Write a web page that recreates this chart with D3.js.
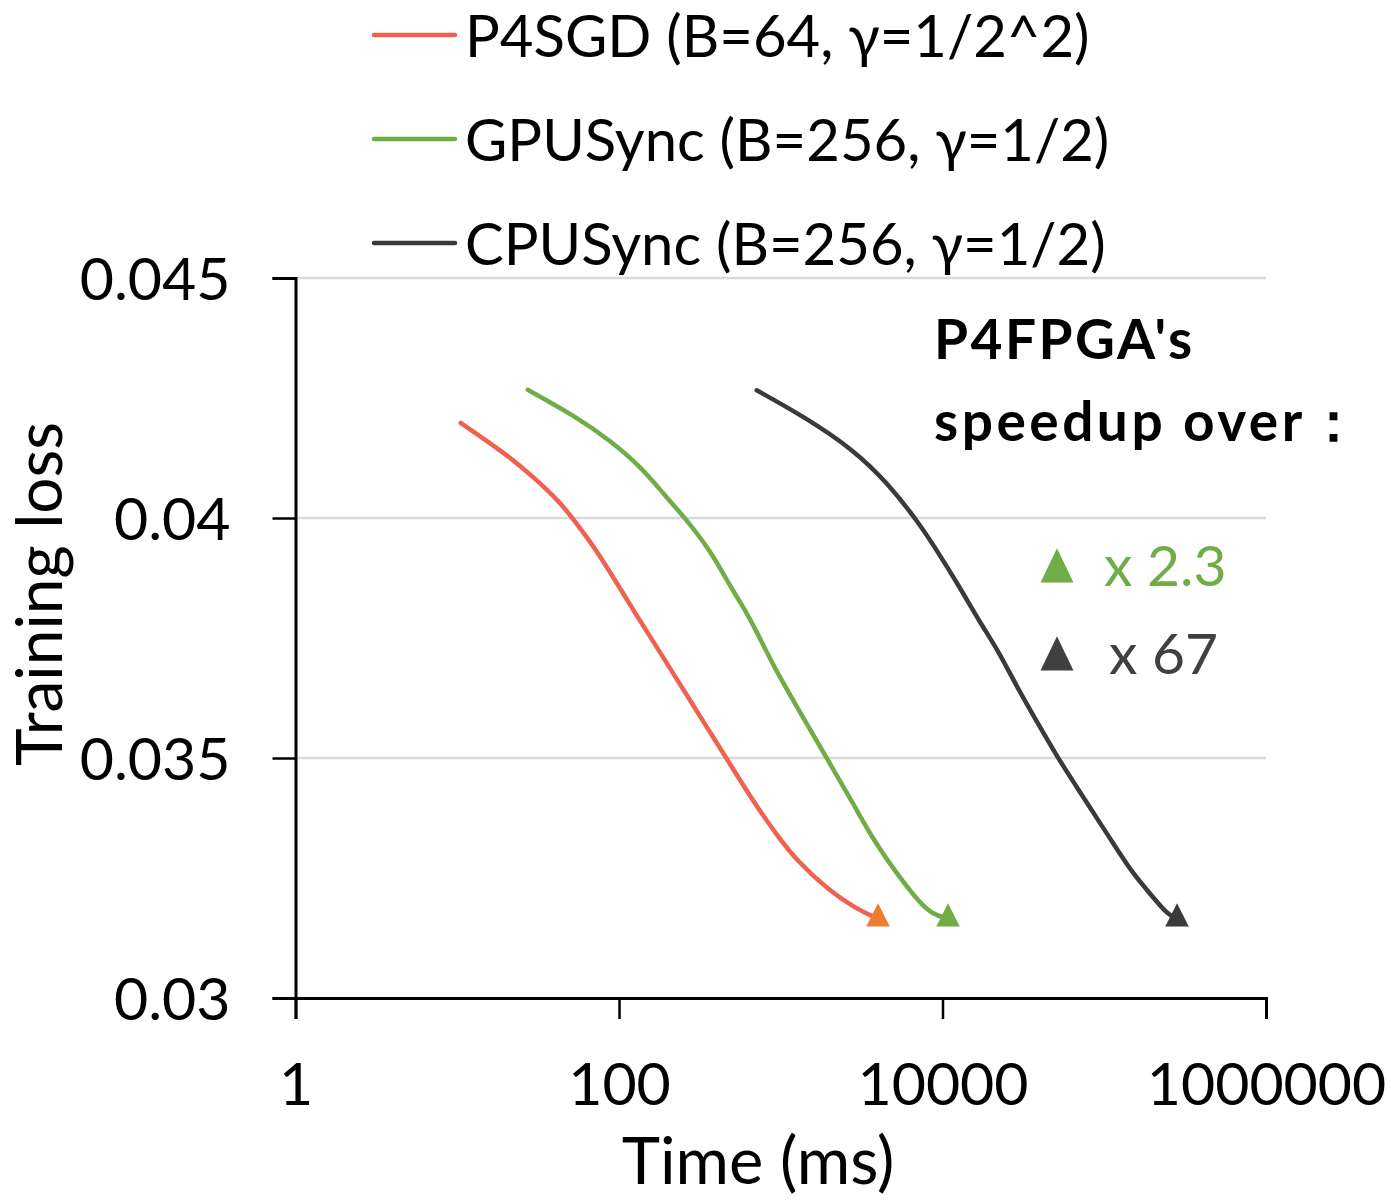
<!DOCTYPE html>
<html>
<head>
<meta charset="utf-8">
<script src="https://cdn.jsdelivr.net/npm/d3@7"></script>
<style>
  body { margin: 0; background: #fff; }
  svg { display: block; font-family: Lato, "Open Sans", sans-serif; }
  .grid line { stroke: #d9d9d9; stroke-width: 2.5; }
</style>
</head>
<body>
<svg id="chart" width="1391" height="1200"></svg>
<script>
// values (time in ms, training loss)
var p4sgdTime = [10.5, 20.5, 30.1, 42.6, 53.2, 68.6, 100.5, 129, 167, 202, 278, 336, 434, 493, 676, 929, 1277, 1989, 2916, 3996];
var p4sgdLoss = [0.04198, 0.04131, 0.04083, 0.04035, 0.03994, 0.03945, 0.03856, 0.03796, 0.03737, 0.03692, 0.03618, 0.03573, 0.03514, 0.03484, 0.0341, 0.03343, 0.03283, 0.03224, 0.03186, 0.03165];

var gpuTime = [27.3, 53.2, 88.6, 138, 190, 261, 370, 477, 596, 721, 900, 1277, 1930, 2916, 3763, 5169, 7100, 8590, 10820];
var gpuLoss = [0.04267, 0.04213, 0.04161, 0.04105, 0.04049, 0.03997, 0.0393, 0.03863, 0.03811, 0.03759, 0.03692, 0.03603, 0.03499, 0.03395, 0.03328, 0.03261, 0.03201, 0.03175, 0.03165];

var cpuTime = [710, 1379, 2802, 4573, 7069, 9290, 12870, 16920, 22200, 29140, 38300, 50250, 65960, 86700, 113800, 149500, 196300, 244000, 281800];
var cpuLoss = [0.04266, 0.04212, 0.04143, 0.04073, 0.03992, 0.03931, 0.03854, 0.03784, 0.03723, 0.03645, 0.03576, 0.03507, 0.03445, 0.03383, 0.03322, 0.0326, 0.03214, 0.03175, 0.03165];

var seriesNames = ["P4SGD (B=64, \u03b3=1/2^2)", "GPUSync (B=256, \u03b3=1/2)", "CPUSync (B=256, \u03b3=1/2)"];
var lineColors = ["#ef6150", "#70ad47", "#3a3a3a"];
var markerColors = ["#ed7d31", "#70ad47", "#3a3a3a"];

var xTicks = [1, 100, 10000, 1000000];
var yTicks = [0.03, 0.035, 0.04, 0.045];

var speedupLabels = ["x 2.3", "x 67"];
var speedupColors = ["#70ad47", "#404040"];

var series = [
	{ time: p4sgdTime, loss: p4sgdLoss },
	{ time: gpuTime, loss: gpuLoss },
	{ time: cpuTime, loss: cpuLoss }
];

var svg = d3.select("#chart");

var x = d3.scaleLog().domain([1, 1000000]).range([295.5, 1266]);
var y = d3.scaleLinear().domain([0.03, 0.045]).range([998, 278]);

// gridlines
svg.append("g").attr("class", "grid")
	.selectAll("line")
	.data(yTicks.slice(1))
	.join("line")
	.attr("x1", x(1)).attr("x2", x(1000000))
	.attr("y1", function(d) { return y(d); })
	.attr("y2", function(d) { return y(d); });

// y axis
var yAxis = svg.append("g")
	.attr("transform", "translate(" + x(1) + ",0)")
	.call(d3.axisLeft(y).tickValues(yTicks).tickSize(23).tickPadding(42)
		.tickFormat(function(d) { return String(+d.toFixed(3)); }));

// x axis
var xAxis = svg.append("g")
	.attr("transform", "translate(0," + y(0.03) + ")")
	.call(d3.axisBottom(x).tickValues(xTicks).tickSize(21).tickPadding(56)
		.tickFormat(d3.format("d")));

[yAxis, xAxis].forEach(function(ax) {
	ax.select(".domain").attr("stroke", "#000").attr("stroke-width", 3);
	ax.selectAll(".tick line").attr("stroke", "#000").attr("stroke-width", 2.5);
	ax.selectAll(".tick text")
		.attr("fill", "#000")
		.style("font-size", "59px")
		.style("font-family", "Lato, sans-serif");
});
yAxis.selectAll(".tick text").attr("dy", "0.36em");
xAxis.selectAll(".tick text").attr("dy", "0.5em");

// axis titles
svg.append("text")
	.attr("transform", "translate(62,594) rotate(-90)")
	.attr("text-anchor", "middle")
	.style("font-size", "64px")
	.text("Training loss");

svg.append("text")
	.attr("x", 758).attr("y", 1184)
	.attr("text-anchor", "middle")
	.style("font-size", "65px")
	.text("Time (ms)");

// curves
var line = d3.line()
	.x(function(d) { return x(d[0]); })
	.y(function(d) { return y(d[1]); })
	.curve(d3.curveBasis);

var tri = d3.symbol().type(d3.symbolTriangle);

series.forEach(function(s, i) {
	var pts = s.time.map(function(t, j) { return [t, s.loss[j]]; });
	svg.append("path")
		.attr("d", line(pts))
		.attr("fill", "none")
		.attr("stroke", lineColors[i])
		.attr("stroke-width", 4.5)
		.attr("stroke-linejoin", "round")
		.attr("stroke-linecap", "round");

	var last = pts[pts.length - 1];
	svg.append("path")
		.attr("d", tri.size(240)())
		.attr("transform", "translate(" + x(last[0]) + "," + y(last[1]) + ") scale(1,1.15)")
		.attr("fill", markerColors[i]);
});

// legend
var legend = svg.append("g").selectAll("g")
	.data(seriesNames)
	.join("g")
	.attr("transform", function(d, i) { return "translate(0," + (35 + i * 104) + ")"; });

legend.append("line")
	.attr("x1", 374).attr("x2", 455)
	.attr("stroke", function(d, i) { return lineColors[i]; })
	.attr("stroke-width", 4.5)
	.attr("stroke-linecap", "round");

legend.append("text")
	.attr("x", 465).attr("y", 22)
	.style("font-size", "58px")
	.text(function(d) { return d; });

// speedup annotation
svg.append("text")
	.attr("x", 934).attr("y", 359)
	.style("font-size", "55px")
	.style("font-weight", "bold")
	.style("letter-spacing", "2.5px")
	.text("P4FPGA's");

svg.append("text")
	.attr("x", 934).attr("y", 441)
	.style("font-size", "55px")
	.style("font-weight", "bold")
	.style("letter-spacing", "3.5px")
	.text("speedup over\uff1a");

var notes = svg.append("g").selectAll("g")
	.data(speedupLabels)
	.join("g")
	.attr("transform", function(d, i) { return "translate(0," + (i * 88) + ")"; });

notes.append("path")
	.attr("d", tri.size(470)())
	.attr("transform", "translate(1057,571) scale(1,1.2)")
	.attr("fill", function(d, i) { return speedupColors[i]; });

notes.append("text")
	.attr("x", function(d, i) { return i === 0 ? 1104 : 1109; })
	.attr("y", 586)
	.style("font-size", "57px")
	.attr("fill", function(d, i) { return speedupColors[i]; })
	.text(function(d) { return d; });
</script>
</body>
</html>
